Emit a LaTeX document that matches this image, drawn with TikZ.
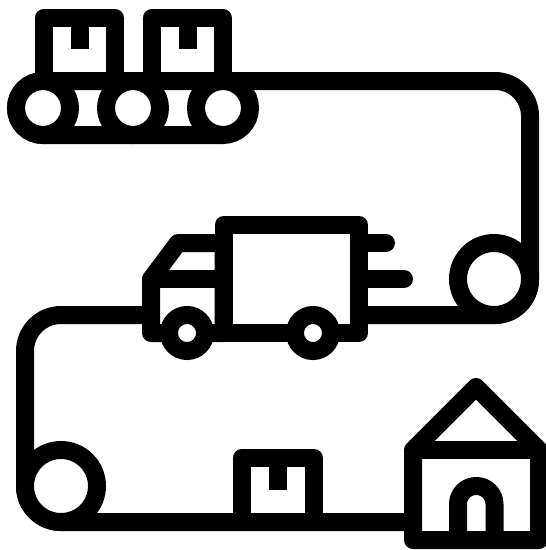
\documentclass[tikz,border=0pt]{standalone}
\usepackage{tikz}
\tikzset{every picture/.style={line width=18pt}}
\tikzset{
  iconline/.style={draw=black, line width=18pt, line join=round},
  roller/.style={draw=black, circle, fill=white, line width=18pt, inner sep=0pt, outer sep=0pt},
}

\begin{document}
\begin{tikzpicture}[x=1pt, y=-1pt]
    \useasboundingbox (0,0) rectangle (546,550);
    % belt, from the conveyor round to the house
    \draw[iconline, rounded corners=27pt] (223,135) -- (16,135) -- (16,81)
        [rounded corners=35pt] -- (530,81) -- (530,315)
        [rounded corners=36pt] -- (25,315) -- (25,522) -- (420,522);
    % boxes on the conveyor
    \draw[iconline] (43.5,81) -- (43.5,18) -- (115,18) -- (115,81);
    \draw[iconline] (79.5,18) -- (79.5,49);
    \draw[iconline] (151.5,81) -- (151.5,18) -- (223,18) -- (223,81);
    \draw[iconline] (187.5,18) -- (187.5,49);
    \node[roller, minimum size=54pt] (roll1) at (43,108) {};
    \node[roller, minimum size=54pt] (roll2) at (133,108) {};
    \node[roller, minimum size=54pt] (roll3) at (223,108) {};
    % truck
    \draw[iconline, line cap=round] (359,243) -- (386,243);
    \draw[iconline, line cap=round] (359,279) -- (404,279);
    \draw[iconline, fill=white] (223.5,243) -- (178,243) -- (151,279) -- (151,333) -- (223.5,333) -- cycle;
    \draw[iconline] (151,279) -- (223.5,279);
    \draw[iconline, fill=white] (223.5,225) rectangle (359,333);
    \node[roller, minimum size=36pt] (wheel1) at (187,333) {};
    \node[roller, minimum size=36pt] (wheel2) at (313,333) {};
    % rollers on the belt
    \node[roller, minimum size=72pt] (rollR) at (494,279) {};
    \node[roller, minimum size=72pt] (rollL) at (61,486) {};
    % box on the belt
    \draw[iconline] (241.5,522) -- (241.5,458) -- (314,458) -- (314,522);
    \draw[iconline] (277.7,458) -- (277.7,490);
    % house
    \draw[iconline, fill=white] (413,450) -- (476,387) -- (539,450) -- (539,540) -- (413,540) -- cycle;
    \draw[iconline] (413,450) -- (539,450);
    \draw[iconline, rounded corners=18pt] (458,540) -- (458,486) -- (494.5,486) -- (494.5,540);
\end{tikzpicture}
\end{document}
